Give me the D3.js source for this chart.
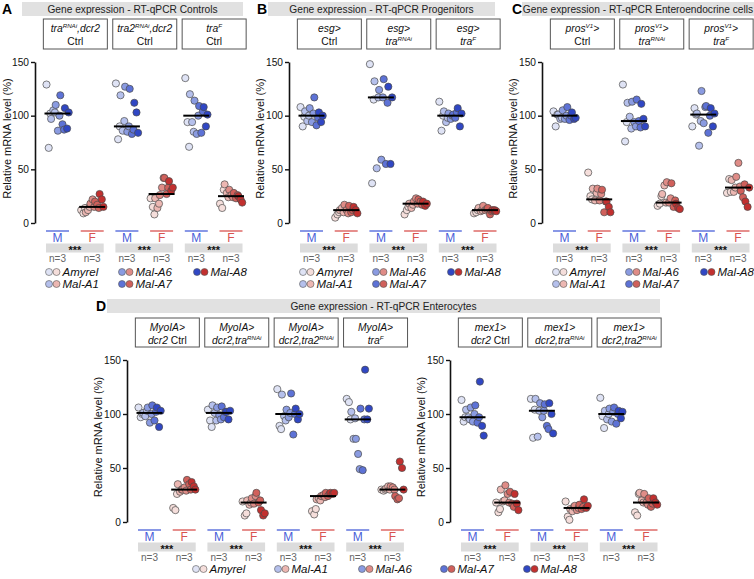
<!DOCTYPE html>
<html><head><meta charset="utf-8">
<script src="https://cdn.jsdelivr.net/npm/d3@7"></script>
<style>body{margin:0;background:#fff} svg{font-family:"Liberation Sans",Arial,sans-serif}</style>
</head><body><svg id="c" width="754" height="579"></svg>
<script>
const genes = ["Amyrel","Mal-A1","Mal-A6","Mal-A7","Mal-A8"];
const maleColors = ["#dfe3f5","#b5c0ec","#8a9be1","#5d72d6","#3047c4"];
const femaleColors = ["#f5dedb","#ecb7b2","#df8c87","#d0605b","#c2302f"];
const yTicks = [0,50,100,150];
const sexLabels = ["M","F"];
const nLabel = "n=3";

// Each group: 5 genes (Amyrel, Mal-A1, Mal-A6, Mal-A7, Mal-A8) x 3 replicates
const A_male = [
  [[129,70,102],[97,105,103],[110,86,100],[119,92,87],[107,88,103]],
  [[130,78,90],[119,86,95],[127,85,90],[125,83,87],[112,103,84]],
  [[135,94,71],[120,94,85],[114,83,100],[109,84,104],[108,90,101]]
];
const A_female = [
  [[12,9,14],[10,12,15],[18,22,15],[20,17,14],[27,22,15]],
  [[23,15,8],[23,14,18],[26,33,42],[42,27,33],[39,30,33]],
  [[18,14,31],[36,28,24],[31,26,24],[28,23,26],[25,22,19]]
];
const B_male = [
  [[108,90,99],[104,95,100],[107,94,102],[117,91,98],[103,94,100]],
  [[148,37,115],[132,51,117],[124,59,117],[134,55,112],[127,55,117]],
  [[113,86,100],[104,94,98],[102,97,100],[101,98,103],[107,90,102]]
];
const B_female = [
  [[5,8,10],[12,14,10],[17,12,9],[16,10,12],[15,12,9]],
  [[8,12,15],[18,14,17],[20,23,18],[22,20,17],[20,16,18]],
  [[9,10,12],[14,11,12],[16,12,13],[14,8,11],[12,12,11]]
];
const C_male = [
  [[104,90,101],[101,97,98],[105,97,100],[108,96,100],[103,97,98]],
  [[129,76,94],[112,99,88],[113,94,90],[115,95,89],[111,97,90]],
  [[90,107,101],[102,72,95],[123,93,108],[109,84,100],[107,90,102]]
];
const C_female = [
  [[47,25,22],[32,21,28],[32,21,27],[31,10,20],[20,15,10]],
  [[16,18,25],[27,35,19],[38,19,23],[37,15,21],[18,14,13]],
  [[28,41,29],[40,29,33],[43,56,34],[30,24,36],[20,15,33]]
];
const D1_male = [
  [[106,97,100],[101,98,103],[106,92,100],[108,94,102],[106,88,103]],
  [[104,94,88],[108,101,94],[106,99,95],[107,97,102],[102,95,103]],
  [[123,89,86],[118,98,94],[104,97,101],[119,81,100],[105,95,100]],
  [[114,111,95],[102,77,96],[77,63,49],[105,48,95],[141,95,105]]
];
const D1_female = [
  [[13,11,26],[35,28,30],[30,32,29],[39,35,30],[37,33,30]],
  [[19,6,8],[20,16,18],[22,17,24],[27,18,20],[11,6,8]],
  [[10,7,12],[21,22,20],[24,25,23],[27,24,26],[27,26,27]],
  [[30,29,30],[31,33,30],[33,32,30],[24,21,22],[56,50,30]]
];
const D2_male = [
  [[113,93,97],[104,97,95],[106,93,100],[108,92,97],[130,89,80]],
  [[114,78,104],[114,79,103],[110,97,103],[109,89,86],[110,100,82]],
  [[115,98,87],[103,95,100],[105,93,102],[106,91,100],[103,96,102]]
];
const D2_female = [
  [[18,9,12],[30,19,20],[34,26,18],[28,17,14],[26,17,11]],
  [[19,5,2],[12,10,14],[15,11,13],[16,12,14],[21,13,15]],
  [[9,6,26],[27,20,18],[26,18,16],[22,14,17],[22,18,16]]
];

// Box labels: each line is a list of [text, style] (i italic, s superscript, n normal)
const A_boxes = [
  [[["tra","i"],["RNAi","s"],[",dcr2","i"]],[["Ctrl","n"]]],
  [[["tra2","i"],["RNAi","s"],[",dcr2","i"]],[["Ctrl","n"]]],
  [[["tra","i"],["F","s"]],[["Ctrl","n"]]]
];
const B_boxes = [
  [[["esg>","i"]],[["Ctrl","n"]]],
  [[["esg>","i"]],[["tra","i"],["RNAi","s"]]],
  [[["esg>","i"]],[["tra","i"],["F","s"]]]
];
const C_boxes = [
  [[["pros","i"],["V1","s"],[">","i"]],[["Ctrl","n"]]],
  [[["pros","i"],["V1","s"],[">","i"]],[["tra","i"],["RNAi","s"]]],
  [[["pros","i"],["V1","s"],[">","i"]],[["tra","i"],["F","s"]]]
];
const D1_boxes = [
  [[["MyoIA>","i"]],[["dcr2","i"],[" Ctrl","n"]]],
  [[["MyoIA>","i"]],[["dcr2,tra","i"],["RNAi","s"]]],
  [[["MyoIA>","i"]],[["dcr2,tra2","i"],["RNAi","s"]]],
  [[["MyoIA>","i"]],[["tra","i"],["F","s"]]]
];
const D2_boxes = [
  [[["mex1>","i"]],[["dcr2","i"],[" Ctrl","n"]]],
  [[["mex1>","i"]],[["dcr2,tra","i"],["RNAi","s"]]],
  [[["mex1>","i"]],[["dcr2,tra2","i"],["RNAi","s"]]]
];

const svg = d3.select("#c");
const R = 3.6;
const geneOff = [-9.2,-4.6,0,4.6,9.2];
const repOff = [-1.8,0.4,2.0];

function richText(g, x, y, segs, size) {
  const t = g.append("text").attr("x", x).attr("y", y).attr("text-anchor","middle")
    .attr("font-size", size).attr("fill","#111");
  let prevSup = false;
  segs.forEach(([txt, st]) => {
    const ts = t.append("tspan").text(txt);
    if (st === "s") { ts.attr("font-size", size*0.6).attr("dy", -4).attr("font-style","italic"); prevSup = true; }
    else {
      ts.attr("font-style", st === "i" ? "italic" : "normal");
      if (prevSup) { ts.attr("dy", 4); prevSup = false; }
    }
  });
}

function panelHeader(letter, lx, ly, title, tx0, tx1, ty, th) {
  svg.append("text").attr("x", lx).attr("y", ly).attr("font-size", 14).attr("font-weight","bold").text(letter);
  svg.append("rect").attr("x", tx0).attr("y", ty).attr("width", tx1-tx0).attr("height", th).attr("fill","#e1e1e1");
  svg.append("text").attr("x", (tx0+tx1)/2).attr("y", ty+th/2+3.6).attr("text-anchor","middle")
    .attr("font-size", 10.2).attr("fill","#222").text(title);
}

function drawPlot(cfg) {
  const g = svg.append("g");
  const y = d3.scaleLinear().domain([0,150]).range([cfg.yBot, cfg.yTop]);
  const n = cfg.M.length;
  const bands = [];
  for (let i=0;i<n;i++) bands.push("M"+i, "F"+i);
  const x = d3.scalePoint().domain(bands).range([cfg.x0+22.5, cfg.x0+22.5+34.7*(2*n-1)]);

  // boxes
  cfg.boxes.forEach((lines, i) => {
    const cx = (x("M"+i)+x("F"+i))/2 + 0.5;
    g.append("rect").attr("x", cx-32).attr("y", cfg.boxY).attr("width", 64).attr("height", cfg.boxH)
      .attr("fill","#fff").attr("stroke","#555").attr("stroke-width",1);
    richText(g, cx, cfg.boxY+13, lines[0], 10.3);
    richText(g, cx, cfg.boxY+26, lines[1], 10.3);
  });

  // axis
  const ax = g.append("g").attr("transform", `translate(${cfg.x0},0)`)
    .call(d3.axisLeft(y).tickValues(yTicks).tickSize(4).tickSizeOuter(0).tickPadding(2));
  ax.select(".domain").attr("stroke","#111").attr("stroke-width",1.6);
  ax.selectAll(".tick line").attr("stroke","#111").attr("stroke-width",1.4);
  ax.selectAll(".tick text").attr("font-size",10.2).attr("fill","#111").attr("font-family","Liberation Sans, Arial, sans-serif");

  g.append("text").attr("transform", `translate(${cfg.labelX},${(cfg.yTop+cfg.yBot)/2 - 4}) rotate(-90)`)
    .attr("text-anchor","middle").attr("font-size",11).attr("fill","#111").text("Relative mRNA level (%)");

  // points
  for (let i=0;i<n;i++) {
    [["M", cfg.M[i], maleColors], ["F", cfg.F[i], femaleColors]].forEach(([s, grp, cols]) => {
      const cx = x(s+i);
      grp.forEach((vals, gi) => {
        vals.forEach((v, ri) => {
          g.append("circle").attr("cx", cx + geneOff[gi] + repOff[ri]).attr("cy", y(v)).attr("r", R)
            .attr("fill", cols[gi]).attr("stroke","#4a4a4a").attr("stroke-width",0.7);
        });
      });
      const med = d3.median(grp.flat());
      g.append("line").attr("x1", cx-13).attr("x2", cx+13).attr("y1", y(med)).attr("y2", y(med))
        .attr("stroke","#000").attr("stroke-width",2);
    });
    // sex labels
    [["M","#4a60d8"],["F","#d9534f"]].forEach(([s,col], si) => {
      const cx = x(s+i);
      g.append("line").attr("x1", cx-11.5).attr("x2", cx+11.5).attr("y1", cfg.yBot+8).attr("y2", cfg.yBot+8)
        .attr("stroke", col).attr("stroke-width",1.3);
      g.append("text").attr("x", cx).attr("y", cfg.yBot+19).attr("text-anchor","middle")
        .attr("font-size",12).attr("fill", col).text(sexLabels[si]);
      g.append("text").attr("x", cx).attr("y", cfg.yBot+39).attr("text-anchor","middle")
        .attr("font-size",10).attr("fill","#666").text(nLabel);
    });
    const x0 = x("M"+i)-11.5, x1 = x("F"+i)+11.5;
    g.append("rect").attr("x", x0).attr("y", cfg.yBot+20.5).attr("width", x1-x0).attr("height", 9).attr("fill","#dcdcdc");
    g.append("text").attr("x", (x0+x1)/2).attr("y", cfg.yBot+31).attr("text-anchor","middle")
      .attr("font-size",11).attr("font-weight","bold").attr("fill","#111").text("***");
  }
}

function legendItem(cx, cy, gi) {
  svg.append("circle").attr("cx", cx).attr("cy", cy).attr("r", 3.5).attr("fill", maleColors[gi]).attr("stroke","#555").attr("stroke-width",0.6);
  svg.append("circle").attr("cx", cx+7.5).attr("cy", cy).attr("r", 3.5).attr("fill", femaleColors[gi]).attr("stroke","#555").attr("stroke-width",0.6);
  svg.append("text").attr("x", cx+13.5).attr("y", cy+4).attr("font-size",11.5).attr("font-style","italic").attr("fill","#111").text(genes[gi]);
}
function legendGrid(x0) {
  const cols = [14, 87, 162];
  const pos = [[0,0],[0,1],[1,0],[1,1],[2,0]];
  pos.forEach(([c,r], gi) => legendItem(x0+cols[c], 272 + r*12, gi));
}

// Panel A
panelHeader("A", 2, 14, "Gene expression - RT-qPCR Controls", 22, 243, 2, 14);
drawPlot({x0:35, yTop:62, yBot:223, M:A_male, F:A_female, boxes:A_boxes, boxY:19, boxH:30, labelX:11});
legendGrid(35);
// Panel B
panelHeader("B", 257, 14, "Gene expression - RT-qPCR Progenitors", 268, 495, 2, 14);
drawPlot({x0:289, yTop:62, yBot:223, M:B_male, F:B_female, boxes:B_boxes, boxY:19, boxH:30, labelX:264});
legendGrid(289);
// Panel C
panelHeader("C", 512, 14, "Gene expression - RT-qPCR Enteroendocrine cells", 522, 754, 2, 14);
drawPlot({x0:542, yTop:62, yBot:223, M:C_male, F:C_female, boxes:C_boxes, boxY:19, boxH:30, labelX:517});
legendGrid(542);
// Panel D
panelHeader("D", 96, 311, "Gene expression - RT-qPCR Enterocytes", 107, 660, 299, 14);
drawPlot({x0:127, yTop:360, yBot:522, M:D1_male, F:D1_female, boxes:D1_boxes, boxY:318, boxH:29, labelX:102});
drawPlot({x0:450, yTop:360, yBot:522, M:D2_male, F:D2_female, boxes:D2_boxes, boxY:318, boxH:29, labelX:425});
[196, 278, 362, 444, 527].forEach((cx, gi) => legendItem(cx, 569, gi));
</script></body></html>
